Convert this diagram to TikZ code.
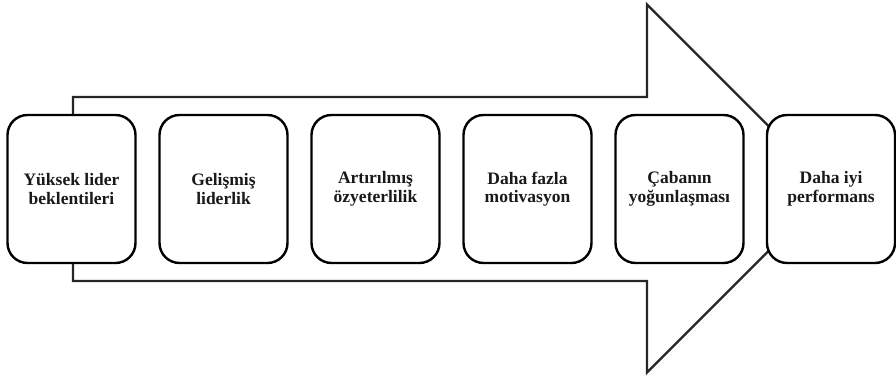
\documentclass[tikz,border=0pt]{standalone}
\usepackage{fontspec}
\setmainfont{Liberation Serif}
\begin{document}
\begin{tikzpicture}[x=1pt,y=-1pt,
  stagebox/.style={draw=black, line width=2.4pt, fill=white, rounded corners=20pt,
    minimum width=128pt, minimum height=148pt, inner sep=0pt, align=center,
    text=black!90, font=\bfseries\fontsize{17.5}{18.5}\selectfont},
  bigarrow/.style={draw=black!85, line width=2.2pt, line join=miter, fill=white}]
\useasboundingbox (0,0) rectangle (896,377);
\draw[bigarrow] (73,97) -- (647,97) -- (647,4.5) -- (831,188.5) -- (647,372.5) -- (647,281) -- (73,281) -- cycle;
\node[stagebox] (b1) at (71.5,189) {Yüksek lider\\beklentileri};
\node[stagebox] (b2) at (223.5,189) {Gelişmiş\\liderlik};
\node[stagebox] (b3) at (375.5,189) {Artırılmış\\özyeterlilik};
\node[stagebox] (b4) at (527.5,189) {Daha fazla\\motivasyon};
\node[stagebox] (b5) at (679.5,189) {Çabanın\\yoğunlaşması};
\node[stagebox] (b6) at (831,189) {Daha iyi\\performans};
\end{tikzpicture}
\end{document}
